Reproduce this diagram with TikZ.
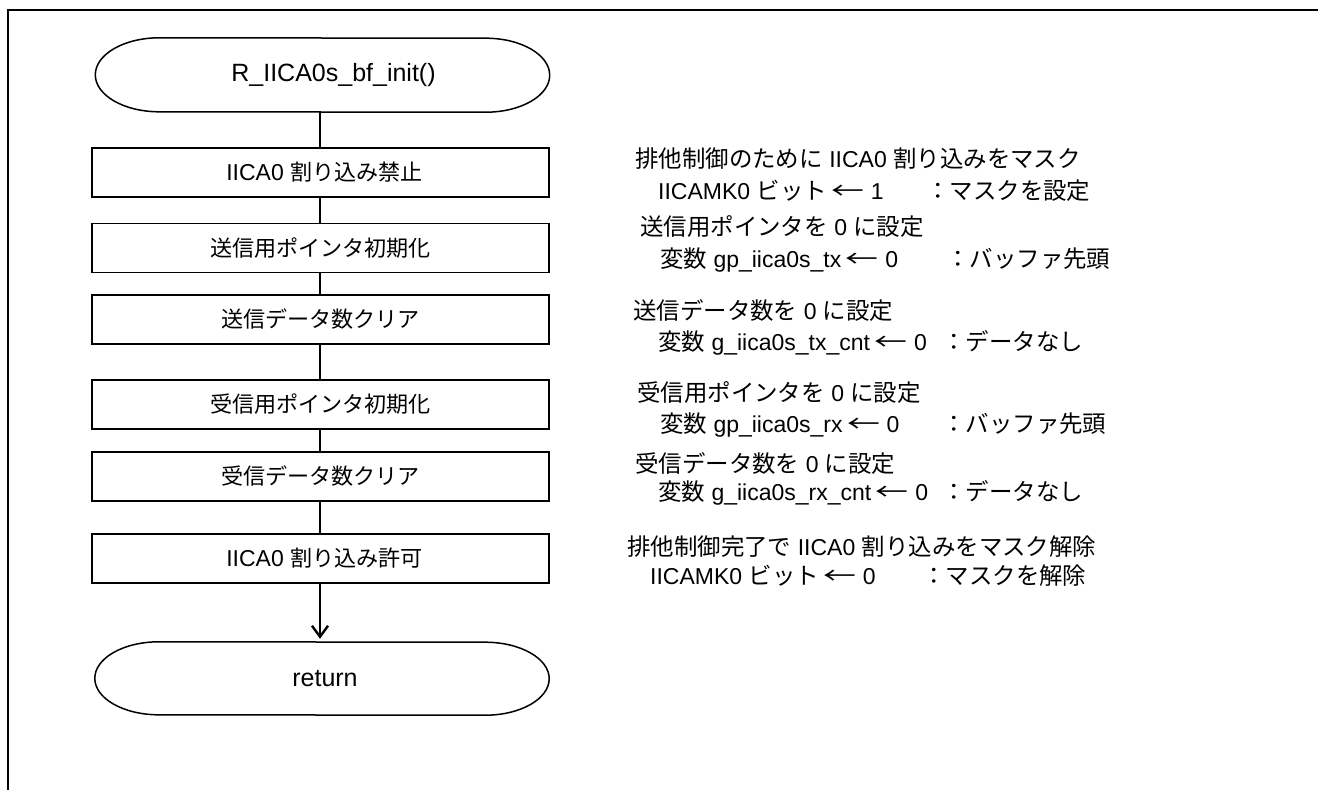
\documentclass[tikz,border=0pt]{standalone}
\usepackage{fontspec}
\usepackage{graphicx}
\setmainfont{Liberation Sans}
\newfontfamily\jp[Scale=0.96]{Noto Sans CJK JP}
\newfontfamily\jpn[Scale=1.02]{Noto Sans CJK JP}
\newcommand\J[1]{{\jp #1}}
\newcommand\N[1]{{\jpn #1}}
\newcommand\larr{\hspace{8pt}\makebox[26pt]{\jpn\scalebox{1.4}[1]{←}}\hspace{10pt}}
\usetikzlibrary{arrows.meta}
\newcommand\termoutline[3]{% node, x radius, y radius
  \draw[line width=1.5pt] ([xshift=#2pt]#1.north west)
    arc[start angle=90,end angle=270,x radius=#2pt,y radius=#3pt]
    -- ([xshift=-#2pt]#1.south east)
    arc[start angle=-90,end angle=90,x radius=#2pt,y radius=#3pt] -- cycle;}
\begin{document}
\begin{tikzpicture}[x=1pt,y=-1pt,
  box/.style={draw, line width=1.8pt, minimum width=457pt, minimum height=49pt, inner sep=0pt,
    font=\fontsize{23}{27}\selectfont},
  term/.style={minimum width=454pt, inner sep=0pt, font=\fontsize{25}{30}\selectfont},
  link/.style={line width=2.4pt},
  note/.style={anchor=west, inner sep=0pt, font=\fontsize{23}{27}\selectfont}]
\useasboundingbox (0,0) rectangle (1318,790);
\draw[line width=2pt] (8,790) -- (8,10) -- (1318,10);

\node[term, minimum height=74pt] (start) at (322.5,75) {\hspace{22pt}R\_IICA0s\_bf\_init()};
\termoutline{start}{64}{37}
\node[box] (b1) at (320.5,172.5) {\hspace{8pt}IICA0 \J{割り込み禁止}};
\node[box] (b2) at (320.5,248) {\J{送信用ポインタ初期化}};
\node[box] (b3) at (320.5,319.5) {\J{送信データ数クリア}};
\node[box] (b4) at (320.5,404.5) {\J{受信用ポインタ初期化}};
\node[box] (b5) at (320.5,476.5) {\J{受信データ数クリア}};
\node[box] (b6) at (320.5,558.5) {\hspace{8pt}IICA0 \J{割り込み許可}};
\node[term, minimum height=73pt] (ret) at (322,678.5) {\hspace{6pt}return};
\termoutline{ret}{64}{36.5}

\draw[link] (start.south -| 320,0) -- (b1.north -| 320,0);
\draw[link] (b1.south -| 320,0) -- (b2.north -| 320,0);
\draw[link] (b2.south -| 320,0) -- (b3.north -| 320,0);
\draw[link] (b3.south -| 320,0) -- (b4.north -| 320,0);
\draw[link] (b4.south -| 320,0) -- (b5.north -| 320,0);
\draw[link] (b5.south -| 320,0) -- (b6.north -| 320,0);
\draw[link, shorten >=3pt, -{Straight Barb[length=11pt,width=16pt]}] (b6.south -| 320,0) -- (ret.north -| 320,0);

\node[note] (n1a) at (635,159) {\N{排他制御のために} IICA0 \N{割り込みをマスク}};
\node[note] (n1b) at (658,191) {\makebox[268pt][l]{IICAMK0 \N{ビット}\larr 1}\N{：マスクを設定}};
\node[note] (n2a) at (640,227) {\N{送信用ポインタを} 0 \N{に設定}};
\node[note] (n2b) at (660,260) {\makebox[286pt][l]{\N{変数} gp\_iica0s\_tx\larr 0}\N{：バッファ先頭}};
\node[note] (n3a) at (633,310) {\N{送信データ数を} 0 \N{に設定}};
\node[note] (n3b) at (658,343) {\makebox[284pt][l]{\N{変数} g\_iica0s\_tx\_cnt\larr 0}\N{：データなし}};
\node[note] (n4a) at (637,393) {\N{受信用ポインタを} 0 \N{に設定}};
\node[note] (n4b) at (660,425) {\makebox[282pt][l]{\N{変数} gp\_iica0s\_rx\larr 0}\N{：バッファ先頭}};
\node[note] (n5a) at (635,463) {\N{受信データ数を} 0 \N{に設定}};
\node[note] (n5b) at (658,493) {\makebox[284pt][l]{\N{変数} g\_iica0s\_rx\_cnt\larr 0}\N{：データなし}};
\node[note] (n6a) at (627,547) {\N{排他制御完了で} IICA0 \N{割り込みをマスク解除}};
\node[note] (n6b) at (650,576) {\makebox[272pt][l]{IICAMK0 \N{ビット}\larr 0}\N{：マスクを解除}};
\end{tikzpicture}
\end{document}
